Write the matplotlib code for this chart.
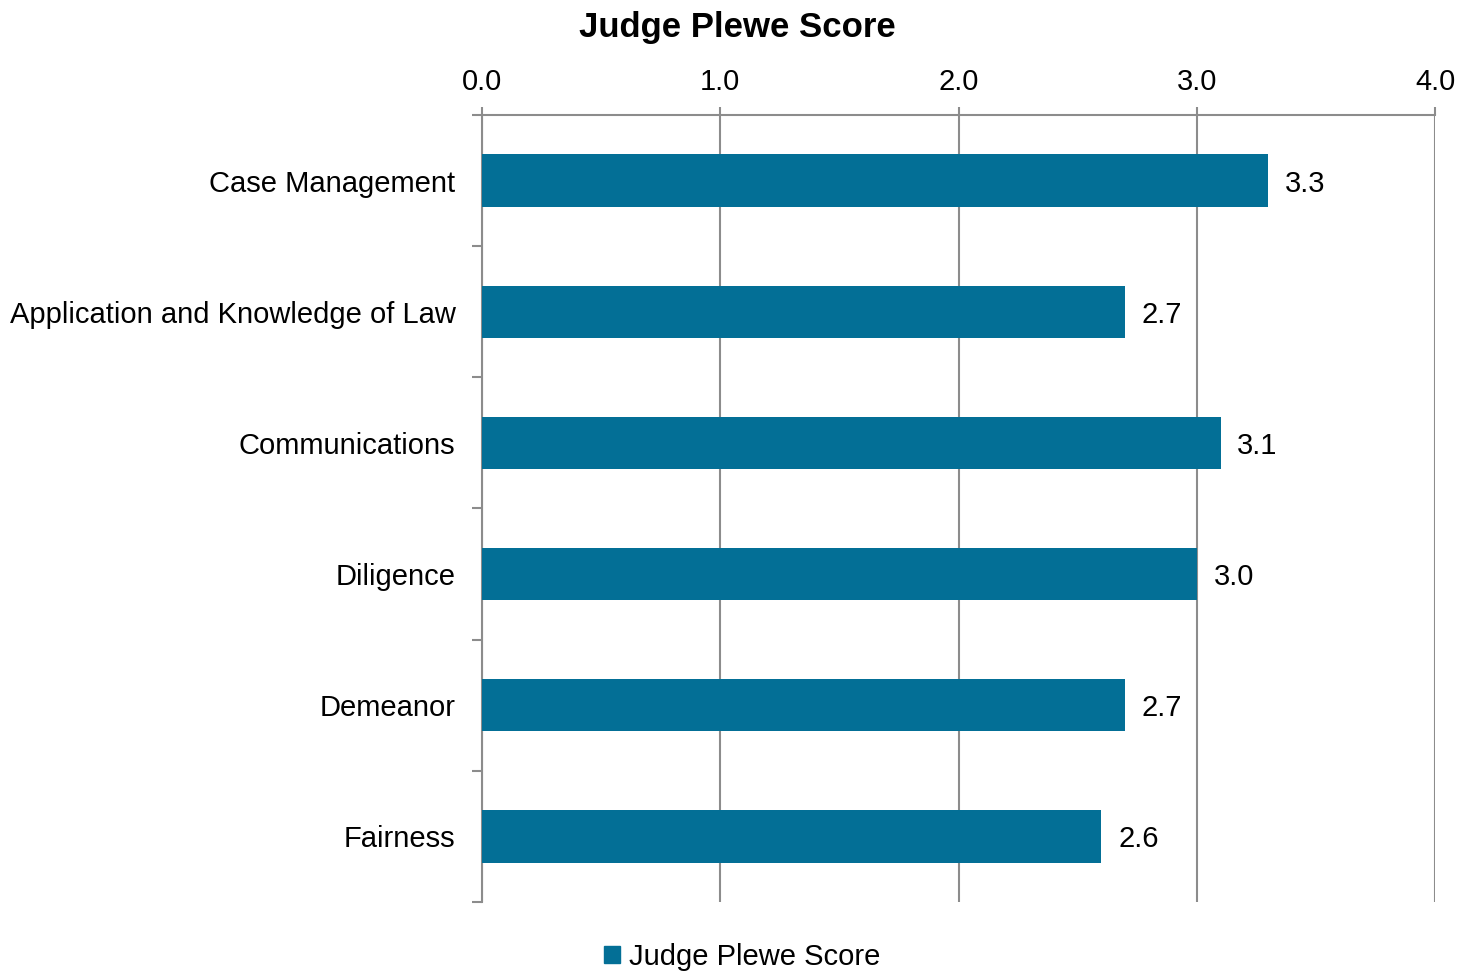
import matplotlib.pyplot as plt
from matplotlib.patches import Patch

plt.rcParams['font.family'] = ['Liberation Sans', 'DejaVu Sans']

# data
categories = ['Case Management', 'Application and Knowledge of Law', 'Communications',
              'Diligence', 'Demeanor', 'Fairness']
scores = [3.3, 2.7, 3.1, 3.0, 2.7, 2.6]
x_ticks = [0.0, 1.0, 2.0, 3.0, 4.0]

bar_color = '#036F96'
grid_color = '#8C8C8C'
fs = 21

fig = plt.figure(figsize=(14.73, 9.73), dpi=100)
ax = fig.add_axes([482 / 1473, 1 - 902 / 973, (1435 - 482) / 1473, (902 - 115) / 973])

ypos = list(range(len(categories)))
ax.barh(ypos, scores, height=0.4, color=bar_color, zorder=3)

for y, v in zip(ypos, scores):
    ax.text(v + 0.07, y, f'{v:.1f}', va='center_baseline', ha='left', fontsize=fs, color='black')

ax.set_xlim(0, 4)
ax.set_ylim(len(categories) - 0.5, -0.5)
ax.set_xticks(x_ticks)
ax.set_xticklabels([f'{t:.1f}' for t in x_ticks], fontsize=fs)
ax.xaxis.tick_top()
ax.tick_params(axis='x', length=6, width=1.5, color=grid_color, pad=8)
ax.grid(axis='x', color=grid_color, linewidth=1.5, zorder=0)

# categories label centred, ticks between categories
ax.set_yticks(ypos)
ax.set_yticklabels(categories, fontsize=fs, va='center_baseline')
ax.tick_params(axis='y', length=0, pad=19)
ax.set_yticks([i - 0.5 for i in range(len(categories) + 1)], minor=True)
ax.tick_params(axis='y', which='minor', length=7, width=1.5, color=grid_color)

for s in ['right', 'bottom']:
    ax.spines[s].set_visible(False)
ax.spines['top'].set_color(grid_color)
ax.spines['top'].set_linewidth(1.5)
ax.spines['left'].set_color(grid_color)
ax.spines['left'].set_linewidth(1.5)

fig.text(737 / 1473, 1 - 24 / 973, 'Judge Plewe Score', ha='center', va='center_baseline',
         fontsize=25, fontweight='bold')

handle = Patch(color=bar_color)
fig.legend([handle], ['Judge Plewe Score'], loc='center', bbox_to_anchor=(742 / 1473, 1 - 957 / 973),
           frameon=False, fontsize=fs, handlelength=0.55, handleheight=0.55, handletextpad=0.3)

fig.savefig('out.png', dpi=100)
